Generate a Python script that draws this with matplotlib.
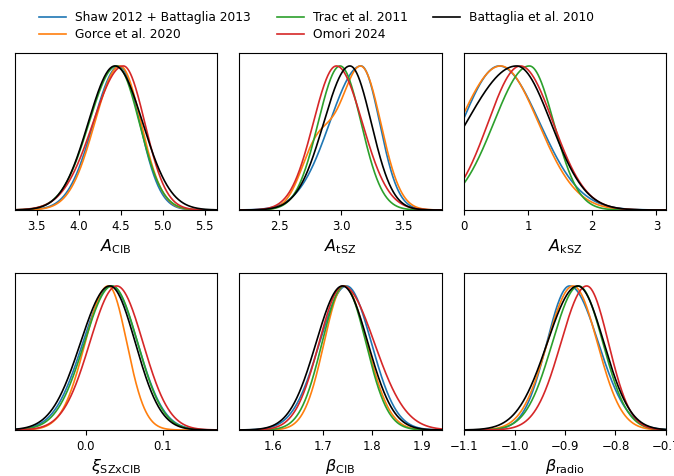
import numpy as np
import matplotlib
matplotlib.use('Agg')
import matplotlib.pyplot as plt

# models and colours
models = ['Shaw 2012 + Battaglia 2013', 'Gorce et al. 2020', 'Trac et al. 2011',
          'Omori 2024', 'Battaglia et al. 2010']
colors = ['#1f77b4', '#ff7f0e', '#2ca02c', '#d62728', 'black']

# marginal posteriors: peak, lower width, upper width
A_CIB_peak = [4.48, 4.49, 4.45, 4.53, 4.43]
A_CIB_lo = [0.305, 0.30, 0.328, 0.36, 0.318]
A_CIB_hi = [0.245, 0.25, 0.27, 0.255, 0.33]

A_tSZ_peak = [3.16, 3.16, 2.99, 2.96, 3.07]
A_tSZ_lo = [0.254, 0.17, 0.177, 0.186, 0.212]
A_tSZ_hi = [0.15, 0.16, 0.17, 0.21, 0.172]
# Gorce et al. 2020 has a shoulder on the low side
A_tSZ_shoulder_pos = [0.0, 2.80, 0.0, 0.0, 0.0]
A_tSZ_shoulder_wid = [1.0, 0.13, 1.0, 1.0, 1.0]
A_tSZ_shoulder_amp = [0.0, 0.42, 0.0, 0.0, 0.0]

A_kSZ_peak = [0.55, 0.57, 1.02, 0.88, 0.82]
A_kSZ_lo = [0.58, 0.64, 0.555, 0.505, 0.785]
A_kSZ_hi = [0.63, 0.59, 0.38, 0.51, 0.535]

xi_peak = [0.033, 0.029, 0.034, 0.040, 0.031]
xi_lo = [0.037, 0.030, 0.036, 0.035, 0.038]
xi_hi = [0.034, 0.024, 0.033, 0.034, 0.033]

beta_CIB_peak = [1.748, 1.743, 1.743, 1.741, 1.740]
beta_CIB_lo = [0.054, 0.040, 0.044, 0.048, 0.053]
beta_CIB_hi = [0.050, 0.046, 0.044, 0.063, 0.051]

beta_radio_peak = [-0.891, -0.884, -0.873, -0.857, -0.875]
beta_radio_lo = [0.045, 0.051, 0.052, 0.051, 0.060]
beta_radio_hi = [0.057, 0.048, 0.048, 0.043, 0.052]

panels = [
    (r'$A_{\rm CIB}$', A_CIB_peak, A_CIB_lo, A_CIB_hi, (3.24, 5.645), [3.5, 4.0, 4.5, 5.0, 5.5]),
    (r'$A_{\rm tSZ}$', A_tSZ_peak, A_tSZ_lo, A_tSZ_hi, (2.177, 3.81), [2.5, 3.0, 3.5]),
    (r'$A_{\rm kSZ}$', A_kSZ_peak, A_kSZ_lo, A_kSZ_hi, (0.0, 3.15), [0, 1, 2, 3]),
    (r'$\xi_{\rm SZxCIB}$', xi_peak, xi_lo, xi_hi, (-0.092, 0.17), [0.0, 0.1]),
    (r'$\beta_{\rm CIB}$', beta_CIB_peak, beta_CIB_lo, beta_CIB_hi, (1.533, 1.939), [1.6, 1.7, 1.8, 1.9]),
    (r'$\beta_{\rm radio}$', beta_radio_peak, beta_radio_lo, beta_radio_hi, (-1.1, -0.7), [-1.1, -1.0, -0.9, -0.8, -0.7]),
]


def split_normal(x, peak, lo, hi):
    s = np.where(x < peak, lo, hi)
    return np.exp(-0.5 * ((x - peak) / s) ** 2)


W, H = 674, 476
fig = plt.figure(figsize=(W / 100, H / 100), dpi=100)

lefts = [15, 239.5, 464]
tops = [53, 273]
aw, ah = 202, 157

handles = []
for k, (label, peak, lo, hi, xlim, ticks) in enumerate(panels):
    row, col = divmod(k, 3)
    ax = fig.add_axes([lefts[col] / W, (H - tops[row] - ah) / H, aw / W, ah / H])
    x = np.linspace(xlim[0], xlim[1], 600)
    for i in range(len(models)):
        y = split_normal(x, peak[i], lo[i], hi[i])
        if k == 1:
            y = y + A_tSZ_shoulder_amp[i] * np.exp(
                -0.5 * ((x - A_tSZ_shoulder_pos[i]) / A_tSZ_shoulder_wid[i]) ** 2)
        y = y / y.max()
        line, = ax.plot(x, y, color=colors[i], lw=1.2, label=models[i])
        if k == 0:
            handles.append(line)
    ax.set_xlim(xlim)
    ax.set_ylim(0, 1.09)
    ax.set_xticks(ticks)
    ax.set_yticks([])
    ax.tick_params(axis='x', labelsize=8.5, length=3.5, width=0.8)
    ax.set_xlabel(label, fontsize=11.5, labelpad=3)
    for sp in ax.spines.values():
        sp.set_linewidth(0.8)

fig.legend(handles=handles, loc='upper center', bbox_to_anchor=(0.47, 1.0),
           ncol=3, frameon=False, fontsize=8.8, handlelength=2.2,
           handletextpad=0.75, columnspacing=2.1, labelspacing=0.32)

fig.savefig('out.png', dpi=100)
